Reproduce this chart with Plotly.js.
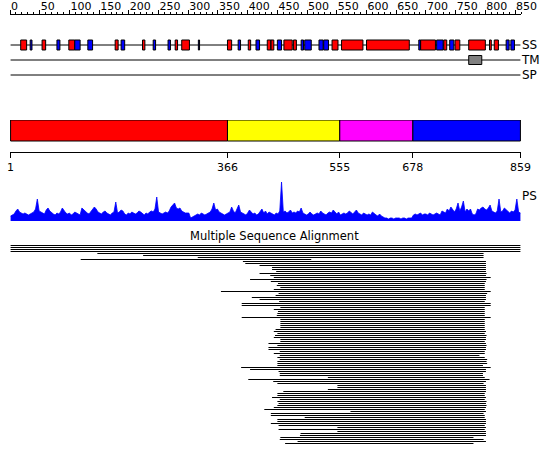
<!DOCTYPE html>
<html><head><meta charset="utf-8">
<script src="https://cdn.plot.ly/plotly-3.0.1.min.js"></script>
<style>html,body{margin:0;padding:0;background:#fff}#chart{width:550px;height:465px}</style>
</head><body><div id="chart"></div>
<script>
// ---------------- data ----------------
const seqLength = 859;
const trackLabels = ['SS', 'TM', 'SP'];
const trackLevels = [3, 2, 1];

// secondary structure: helices (red) and strands (blue)
const helixStart = [18, 54, 99, 177, 223, 278, 289, 366, 401, 433, 439, 461, 477, 542, 558, 600, 691, 730, 749, 772, 807, 815];
const helixEnd   = [28, 60, 109, 182, 227, 282, 302, 373, 405, 439, 444, 475, 482, 552, 594, 672, 716, 735, 757, 800, 810, 822];
const strandStart = [34, 79, 109, 131, 187, 241, 266, 317, 384, 414, 450, 490, 496, 520, 528, 688, 718, 740, 835, 843];
const strandEnd   = [37, 84, 118, 139, 193, 245, 270, 319, 388, 420, 457, 494, 507, 527, 536, 691, 729, 747, 840, 849];

// transmembrane segment
const tmStart = [772];
const tmEnd   = [794];

// domains
const domainStart  = [1, 366, 555, 678];
const domainEnd    = [366, 555, 678, 859];
const domainColors = ['#ff0000', '#ffff00', '#ff00ff', '#0000ff'];
const domainTicks  = [1, 366, 555, 678, 859];

// PS profile, one value every psStep residues starting at residue 1
const psStep = 3;
const psValues = [
  5,6,7,10,12,9,8,7,8,7,
  6,7,8,9,12,22,10,9,8,7,
  11,13,10,8,7,6,8,7,9,13,
  10,8,7,8,6,7,9,8,7,6,
  13,11,9,8,7,9,11,14,12,9,
  8,7,9,10,8,7,6,8,9,19,
  8,9,11,10,7,6,8,7,9,8,
  7,8,10,9,7,6,8,7,9,10,
  9,12,24,9,8,7,8,9,8,10,
  14,16,18,13,12,13,10,9,8,8,
  8,3,4,5,6,7,6,8,7,6,
  7,8,9,12,18,11,12,9,8,7,
  6,7,8,9,14,10,8,12,16,9,
  8,7,6,8,11,9,7,8,6,7,
  9,12,8,10,7,9,8,7,6,8,
  7,10,39,9,10,8,9,11,8,9,
  8,10,9,13,8,7,6,7,9,7,
  6,7,8,7,10,8,7,6,8,9,
  8,11,9,7,9,6,7,8,7,8,
  10,8,7,9,11,8,7,6,8,7,
  6,7,6,9,7,6,5,7,5,4,
  3,3,2,3,3,2,3,3,3,2,
  3,3,2,3,3,3,6,7,6,7,
  8,6,7,7,6,8,7,6,7,8,
  7,6,10,9,8,12,10,14,11,9,
  12,18,10,14,20,9,12,10,12,7,
  6,7,12,11,13,14,12,11,13,16,
  10,9,8,10,22,9,10,13,11,9,
  8,10,9,11,22,9,8
];

// multiple sequence alignment: start / end residue of each aligned sequence
const msaStart = [
  1,1,1,1,147,224,316,119,392,396,
  420,441,441,448,420,438,444,404,439,451,
  449,455,444,355,452,447,407,420,453,390,
  390,455,444,451,450,449,390,455,455,455,
  455,455,447,444,450,446,444,455,455,435,
  450,435,435,454,444,454,450,454,450,450,
  450,389,404,452,454,454,535,401,443,450,
  551,551,535,460,450,450,441,454,450,452,
  450,444,428,573,439,439,496,450,450,439,
  452,551,452,551,489,488,455,454,484,463
];
const msaEnd = [
  859,859,859,859,797,797,797,507,801,801,
  801,801,801,801,802,801,809,802,801,799,
  799,799,799,809,803,801,801,801,799,809,
  809,799,799,799,799,799,809,799,799,799,
  799,799,799,801,799,802,801,801,799,801,
  802,801,801,799,799,790,799,803,802,803,
  796,809,801,801,796,796,799,807,801,797,
  801,801,801,801,799,799,801,799,802,801,
  802,801,799,801,797,799,799,801,801,801,
  799,801,799,801,801,801,780,797,801,780
];

// ---------------- geometry helpers ----------------
const H = 465;
const dom = (topPx, botPx) => [1 - botPx / H, 1 - topPx / H];

function boxes(starts, ends, level, half) {
  const x = [], y = [];
  starts.forEach((s, i) => {
    const e = ends[i];
    x.push(s, e, e, s, s, null);
    y.push(level - half, level - half, level + half, level + half, level - half, null);
  });
  return {x, y};
}

const traces = [];

// ruler subplot holder (no marks)
traces.push({type: 'scatter', mode: 'markers', x: [1], y: [0.5], xaxis: 'x', yaxis: 'y',
  marker: {size: 1, opacity: 0}, hoverinfo: 'skip'});

// track baselines
const lx = [], ly = [];
trackLevels.forEach(l => { lx.push(1, seqLength, null); ly.push(l, l, null); });
traces.push({type: 'scatter', mode: 'lines', x: lx, y: ly, xaxis: 'x2', yaxis: 'y2',
  line: {color: '#000', width: 1}, hoverinfo: 'skip'});

const hb = boxes(helixStart, helixEnd, 3, 0.333);
traces.push({type: 'scatter', mode: 'lines', x: hb.x, y: hb.y, xaxis: 'x2', yaxis: 'y2',
  fill: 'toself', fillcolor: '#ff0000', line: {color: '#000', width: 1}, hoverinfo: 'skip'});
const sb = boxes(strandStart, strandEnd, 3, 0.333);
traces.push({type: 'scatter', mode: 'lines', x: sb.x, y: sb.y, xaxis: 'x2', yaxis: 'y2',
  fill: 'toself', fillcolor: '#0000ff', line: {color: '#000', width: 1}, hoverinfo: 'skip'});
const tb = boxes(tmStart, tmEnd, 2, 0.3);
traces.push({type: 'scatter', mode: 'lines', x: tb.x, y: tb.y, xaxis: 'x2', yaxis: 'y2',
  fill: 'toself', fillcolor: '#808080', line: {color: '#000', width: 1}, hoverinfo: 'skip'});

// domain bar
traces.push({type: 'bar', orientation: 'h', xaxis: 'x3', yaxis: 'y3',
  base: domainStart, x: domainEnd.map((e, i) => e - domainStart[i]),
  y: domainStart.map(() => 21.5), width: 21,
  marker: {color: domainColors, line: {color: '#000', width: 1}}, hoverinfo: 'skip'});

// PS profile
traces.push({type: 'scatter', mode: 'lines', xaxis: 'x4', yaxis: 'y4',
  x: psValues.map((v, i) => 1 + i * psStep), y: psValues,
  fill: 'tozeroy', fillcolor: '#0000ff', line: {color: '#0000ff', width: 0.8}, hoverinfo: 'skip'});

// MSA
const mx = [], my = [];
msaStart.forEach((s, i) => { mx.push(s, msaEnd[i], null); my.push(i, i, null); });
traces.push({type: 'scatter', mode: 'lines', xaxis: 'x5', yaxis: 'y5', x: mx, y: my,
  line: {color: '#000', width: 1}, hoverinfo: 'skip'});

const hiddenX = a => ({range: [0, 860], anchor: a, visible: false, fixedrange: true});
const font = 'DejaVu Sans, Verdana, sans-serif';

const layout = {
  width: 550, height: 465,
  margin: {l: 10, r: 29, t: 0, b: 0, pad: 0},
  showlegend: false,
  paper_bgcolor: '#fff', plot_bgcolor: 'rgba(0,0,0,0)',
  font: {family: font, size: 11, color: '#000'},
  barmode: 'overlay',
  xaxis: {range: [0, 860], anchor: 'y', side: 'top', showline: true, linecolor: '#000', linewidth: 1,
    ticks: 'outside', ticklen: 4, tickwidth: 1, tickcolor: '#000', tick0: 0, dtick: 50, tickangle: 0,
    minor: {tick0: 0, dtick: 10, ticks: 'outside', ticklen: 2, tickwidth: 1, tickcolor: '#000', showgrid: false},
    ticklabelposition: 'outside right', tickfont: {size: 11, family: font, color: '#000'},
    showgrid: false, zeroline: false, fixedrange: true},
  yaxis: {domain: dom(15, 25), range: [0, 1], anchor: 'x', visible: false, fixedrange: true},
  xaxis2: hiddenX('y2'),
  yaxis2: {domain: dom(37.5, 82.5), range: [0.5, 3.5], anchor: 'x2', side: 'right',
    tickvals: trackLevels, ticktext: trackLabels, ticks: '', showline: false, showgrid: false,
    zeroline: false, tickfont: {size: 12, family: font, color: '#000'}, fixedrange: true},
  xaxis3: {range: [0, 860], anchor: 'y3', showline: true, linecolor: '#000', linewidth: 1,
    ticks: 'outside', ticklen: 5, tickwidth: 1, tickcolor: '#000',
    tickvals: domainTicks, ticktext: domainTicks.map(String),
    tickfont: {size: 11, family: font, color: '#000'}, showgrid: false, zeroline: false, fixedrange: true},
  yaxis3: {domain: dom(120, 152), range: [0, 32], anchor: 'x3', visible: false, fixedrange: true},
  xaxis4: hiddenX('y4'),
  yaxis4: {domain: dom(180, 221), range: [0, 41], anchor: 'x4', side: 'right',
    tickvals: [25.5], ticktext: ['PS'], ticks: '', showline: false, showgrid: false, zeroline: false,
    tickfont: {size: 12, family: font, color: '#000'}, fixedrange: true},
  xaxis5: hiddenX('y5'),
  yaxis5: {domain: dom(244.5, 444.5), range: [99.5, -0.5], anchor: 'x5', visible: false, fixedrange: true},
  annotations: [{text: 'Multiple Sequence Alignment', xref: 'paper', yref: 'paper',
    x: (274 - 10) / 511, y: 1 - 236 / H, xanchor: 'center', yanchor: 'middle', showarrow: false,
    font: {size: 11.5, family: font, color: '#000'}}]
};

Plotly.newPlot('chart', traces, layout, {displayModeBar: false, staticPlot: true});
</script>
</body></html>
